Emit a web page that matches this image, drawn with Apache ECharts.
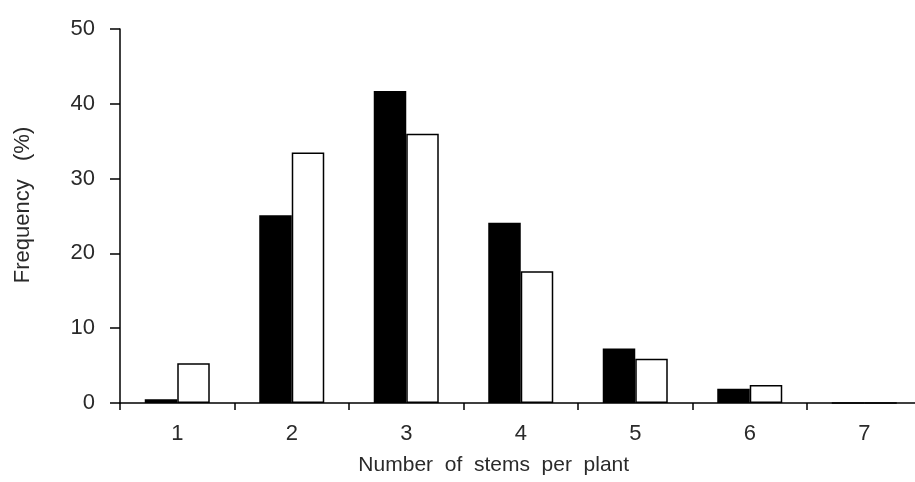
<!DOCTYPE html>
<html>
<head>
<meta charset="utf-8">
<script src="https://cdn.jsdelivr.net/npm/echarts@6/dist/echarts.min.js"></script>
<style>
html,body{margin:0;padding:0;background:#fff;}
#chart{width:915px;height:482px;}
</style>
</head>
<body>
<div id="chart"></div>
<script>
const categories = ['1', '2', '3', '4', '5', '6', '7'];
const seriesBlack = [0.5, 25.1, 41.7, 24.1, 7.3, 1.9, 0];
const seriesWhite = [5.3, 33.5, 36.0, 17.6, 5.9, 2.4, 0];
const yTicks = { min: 0, max: 50, interval: 10 };

const chart = echarts.init(document.getElementById('chart'), null, { renderer: 'canvas' });
const font = "'Liberation Sans', Arial, sans-serif";
const txt = '#2a2a2a';
chart.setOption({
  animation: false,
  backgroundColor: '#fff',
  grid: { left: 120, top: 29, right: -6.5, bottom: 79, containLabel: false, outerBoundsMode: 'none' },
  xAxis: {
    type: 'category',
    data: categories,
    boundaryGap: true,
    name: 'Number  of  stems  per  plant',
    nameLocation: 'middle',
    nameGap: 52,
    nameTextStyle: { fontFamily: font, fontSize: 21, color: txt, padding: [0, 54, 0, 0] },
    axisLine: { lineStyle: { color: '#000', width: 1.5 } },
    axisTick: { show: true, length: 7, lineStyle: { color: '#000', width: 1.5 } },
    axisLabel: { fontFamily: font, fontSize: 22, color: txt, margin: 20 },
    splitLine: { show: false }
  },
  yAxis: {
    type: 'value',
    min: yTicks.min, max: yTicks.max, interval: yTicks.interval,
    name: 'Frequency   (%)',
    nameLocation: 'middle',
    nameGap: 86,
    nameRotate: 90,
    nameTextStyle: { fontFamily: font, fontSize: 22, color: txt, padding: [0, 0, 0, 22] },
    axisLine: { show: true, lineStyle: { color: '#000', width: 1.5 } },
    axisTick: { show: true, length: 10, lineStyle: { color: '#000', width: 1.5 } },
    axisLabel: { fontFamily: font, fontSize: 22, color: txt, margin: 25 },
    splitLine: { show: false }
  },
  series: [
    {
      type: 'bar', data: seriesBlack, barWidth: 32.5, barGap: '0%',
      itemStyle: { color: '#000', borderColor: '#000', borderWidth: 1.5 }
    },
    {
      type: 'bar', data: seriesWhite, barWidth: 32.5, barGap: '0%',
      itemStyle: { color: '#fff', borderColor: '#000', borderWidth: 1.5 }
    }
  ]
});
</script>
</body>
</html>
